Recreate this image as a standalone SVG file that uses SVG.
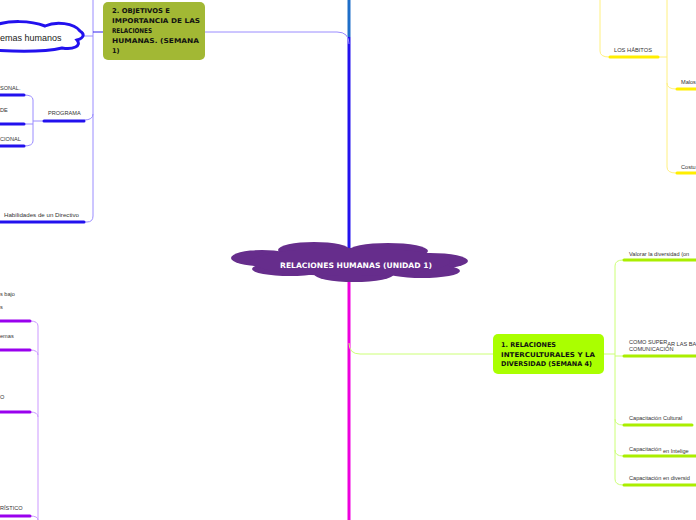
<svg xmlns="http://www.w3.org/2000/svg" width="696" height="520" viewBox="0 0 696 520">
<style>
.lbl{font-family:"Liberation Sans",Arial,sans-serif;font-size:5.6px;fill:#333}
.nt{font-family:"DejaVu Sans",sans-serif;font-weight:bold;font-size:6.6px;fill:#111}
.c{fill:none;stroke-width:1}
.ub{stroke:#2211ee;stroke-width:3;stroke-linecap:round;fill:none}
.up{stroke:#9900ee;stroke-width:3;stroke-linecap:round;fill:none}
.ug{stroke:#aaee00;stroke-width:3;stroke-linecap:round;fill:none}
.uy{stroke:#ffee00;stroke-width:3;stroke-linecap:round;fill:none}
.lp{stroke:#9a8cff}
.lv{stroke:#cc99ff}
.lg{stroke:#ccff77}
.ly{stroke:#fff080}
</style>
<rect width="696" height="520" fill="#ffffff"/>
<g id="connectors">
  <path d="M349,0 V37" stroke="#1e6ec8" stroke-width="3" fill="none"/>
  <path d="M349,37 V250" stroke="#2211ee" stroke-width="3" fill="none"/>
  <path d="M349,278 V520" stroke="#ee00dd" stroke-width="3" fill="none"/>
  <path class="c lp" d="M205,32 H337 Q349,32 349,44"/>
  <path class="c lg" d="M349,343 Q349,354 360,354 H493"/>
  <path class="c lp" d="M93,0 V216 Q93,222 87,222 H84"/>
  <path class="c" stroke="#3322ee" d="M93,32 H104"/>
  <path class="c lp" d="M82,36 H93"/>
  <path class="c lp" d="M84,120 Q93,120 93,114"/>
  <path class="c lp" d="M43,121 H33 M24,95 Q33,95 33,100 V141 Q33,146 24,146 M24,124 H33"/>
  <path class="c lv" d="M30,321 Q38,321 38,326 V520 M30,350 Q38,350 38,355 M30,412 Q38,412 38,417 M30,516 Q38,516 38,520"/>
  <path class="c lg" d="M604,354 H615 M623,260 Q615,260 615,266 V479 Q615,485 623,485 M615,356 H623 M615,419 Q615,425 623,425 M615,450 Q615,456 623,456"/>
  <path class="c ly" d="M600,0 V51 Q600,57 609,57 M658,57 H667 M667,0 V167 Q667,173 676,173 M667,83 Q667,89 676,89"/>
</g>
<g id="root">
  <g fill="#662d8c">
    <ellipse cx="314" cy="250" rx="36" ry="8"/>
    <ellipse cx="388" cy="251" rx="40" ry="8"/>
    <ellipse cx="262" cy="258" rx="31" ry="8"/>
    <ellipse cx="430" cy="261" rx="38" ry="8"/>
    <ellipse cx="290" cy="269" rx="38" ry="7"/>
    <ellipse cx="354" cy="274" rx="40" ry="8"/>
    <ellipse cx="422" cy="271" rx="38" ry="7"/>
    <ellipse cx="350" cy="262" rx="100" ry="14"/>
  </g>
  <text x="356" y="267.5" text-anchor="middle" font-family="DejaVu Sans,sans-serif" font-weight="bold" font-size="7.4" fill="#ffffff" textLength="152" lengthAdjust="spacingAndGlyphs">RELACIONES HUMANAS (UNIDAD 1)</text>
</g>
<g id="node2">
  <rect x="103" y="2" width="102" height="58" rx="5" fill="#a2b834"/>
  <text class="nt" x="112" y="12.5" textLength="58" lengthAdjust="spacingAndGlyphs">2. OBJETIVOS E</text>
  <text class="nt" x="112" y="22.5" textLength="88" lengthAdjust="spacingAndGlyphs">IMPORTANCIA DE LAS</text>
  <text class="nt" x="112" y="32.5" textLength="40" lengthAdjust="spacingAndGlyphs">RELACIONES</text>
  <text class="nt" x="112" y="43" textLength="87" lengthAdjust="spacingAndGlyphs">HUMANAS. (SEMANA</text>
  <text class="nt" x="112" y="53">1)</text>
</g>
<g id="node1">
  <rect x="493" y="334" width="111" height="40" rx="5" fill="#aaff00"/>
  <text class="nt" x="501" y="346.5" textLength="55" lengthAdjust="spacingAndGlyphs">1. RELACIONES</text>
  <text class="nt" x="501" y="356.5" textLength="94" lengthAdjust="spacingAndGlyphs">INTERCULTURALES Y LA</text>
  <text class="nt" x="501" y="366" textLength="91" lengthAdjust="spacingAndGlyphs">DIVERSIDAD (SEMANA 4)</text>
</g>
<g id="sistemas">
  <path d="M-10,27 C8,19 32,21 45,26 C56,21 74,23 80,31 C85,34 84,38 77,40 C82,46 73,50 62,48 C45,52 20,52 -10,50 Z" fill="#ffffff" stroke="#2211ee" stroke-width="3"/>
  <text x="0" y="41" font-family="Liberation Sans,Arial,sans-serif" font-size="9" fill="#222">emas humanos</text>
</g>
<g id="programa">
  <text class="lbl" x="48" y="115">PROGRAMA</text>
  <path class="ub" d="M44,121 H84"/>
</g>
<g id="prog-1"><text class="lbl" x="0" y="89.5">SONAL.</text><path class="ub" d="M-2,95 H24"/></g>
<g id="prog-2"><text class="lbl" x="0" y="111.5">DE</text><path class="ub" d="M-2,124 H24"/></g>
<g id="prog-3"><text class="lbl" x="0" y="141">CIONAL</text><path class="ub" d="M-2,146 H24"/></g>
<g id="habilidades"><text class="lbl" x="4" y="217" textLength="75" lengthAdjust="spacingAndGlyphs">Habilidades de un Directivo</text><path class="ub" d="M-2,222 H84"/></g>
<g id="bl-1"><text class="lbl" x="0" y="296">s bajo</text><text class="lbl" x="0" y="309">s</text><path class="up" d="M-2,321 H30"/></g>
<g id="bl-2"><text class="lbl" x="0" y="338">emas</text><path class="up" d="M-2,350 H30"/></g>
<g id="bl-3"><text class="lbl" x="0" y="399">O</text><path class="up" d="M-2,412 H30"/></g>
<g id="bl-4"><text class="lbl" x="0" y="510">RÍSTICO</text><path class="up" d="M-2,516 H30"/></g>
<g id="habitos"><text class="lbl" x="614" y="52" textLength="38" lengthAdjust="spacingAndGlyphs">LOS HÁBITOS</text><path class="uy" d="M610,57 H658"/></g>
<g id="malos"><text class="lbl" x="681" y="84">Malos</text><path class="uy" d="M677,89 H698"/></g>
<g id="costu"><text class="lbl" x="681" y="169">Costu</text><path class="uy" d="M677,173 H698"/></g>
<g id="valorar"><text class="lbl" x="629" y="255.5">Valorar la diversidad (on</text><path class="ug" d="M624,260 H698"/></g>
<g id="como"><text class="lbl" x="629" y="344">COMO SUPER<tspan dy="1.5">AR LAS BA</tspan></text><text class="lbl" x="629" y="351">COMUNICACIÓN</text><path class="ug" d="M624,356 H698"/></g>
<g id="cap-cultural"><text class="lbl" x="629" y="420">Capacitación  Cultural</text><path class="ug" d="M624,425 H692"/></g>
<g id="cap-intel"><text class="lbl" x="629" y="451">Capacitación <tspan dy="1.5">en Intelige</tspan></text><path class="ug" d="M624,456 H698"/></g>
<g id="cap-div"><text class="lbl" x="629" y="480">Capacitación  en diversid</text><path class="ug" d="M624,485 H698"/></g>
</svg>
